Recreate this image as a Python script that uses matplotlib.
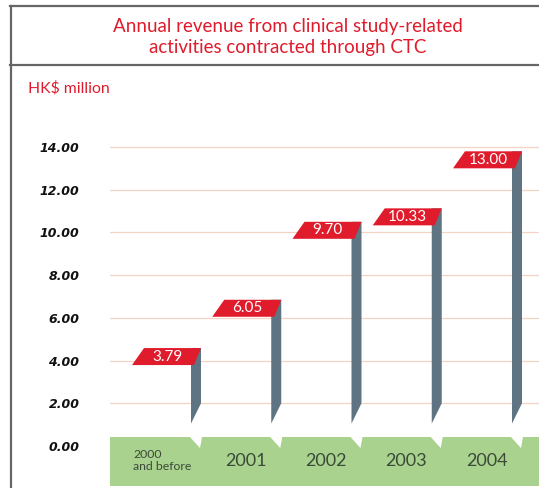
import numpy as np
import matplotlib.pyplot as plt
from matplotlib.patches import Polygon, Rectangle
from matplotlib.lines import Line2D

# Data
years = ['2000\nand before', '2001', '2002', '2003', '2004']
revenue = [3.79, 6.05, 9.70, 10.33, 13.00]
yticks = [0, 2, 4, 6, 8, 10, 12, 14]

RED = '#e01b2b'
GREY = '#5f7482'
GREEN = '#aad28f'
GRID = '#f4d2c6'
FRAME = '#666666'
YEARTXT = '#3b4a38'

fig = plt.figure(figsize=(5.39, 4.88), dpi=100)

# frame lines (title box + main box, right side is cut off)
for xs, ys in [([10 / 539, 1], [1 - 6 / 488, 1 - 6 / 488]),
               ([10 / 539, 1], [1 - 65 / 488, 1 - 65 / 488]),
               ([11 / 539, 11 / 539], [0, 1 - 6 / 488])]:
    fig.add_artist(Line2D(xs, ys, color=FRAME, lw=1.6, transform=fig.transFigure))

fig.text(288 / 539, 1 - 37 / 488,
         'Annual revenue from clinical study-related\nactivities contracted through CTC',
         ha='center', va='center', color=RED, fontsize=13.5, family=['Lato', 'DejaVu Sans'],
         linespacing=1.3)
fig.text(28 / 539, 1 - 88 / 488, 'HK$ million', ha='left', va='center', color=RED,
         fontsize=11.3, family=['Lato', 'DejaVu Sans'])

# axes placed so that the value scale matches the picture
ax = fig.add_axes([110 / 539, 0, 429 / 539, 358 / 488])
ax.set_xlim(-0.634, 4.712)
ax.set_ylim(-1.966, 14.794)

for s in ax.spines.values():
    s.set_visible(False)
ax.set_xticks([])
ax.set_yticks(yticks)
ax.set_yticklabels(['%.2f' % t for t in yticks], fontweight='bold', style='italic',
                   fontsize=9, color='#111111')
ax.tick_params(axis='y', length=0, pad=22)
for t in yticks[1:]:
    ax.axhline(t, color=GRID, lw=0.9, zorder=1)

# px -> data unit helpers
px_x = 1 / 80.25
px_y = 1 / 21.36

band_top = 0.42
band_bot = -1.87
ax.add_patch(Rectangle((-0.634, band_bot), 5.5, band_top - band_bot,
                       facecolor=GREEN, edgecolor='none', zorder=2))

label_h = 17 * px_y
for i, (yr, v) in enumerate(zip(years, revenue)):
    r = i + 0.5  # right edge of the bar
    top = v + label_h
    # grey stem with slanted bottom
    ax.add_patch(Polygon([(r - 10 * px_x, top), (r, top), (r, 2.0), (r - 10 * px_x, 1.05)],
                         closed=True, facecolor=GREY, edgecolor='none', zorder=3))
    # notch in the green band
    ax.add_patch(Polygon([(r - 11 * px_x, band_top), (r + 1 * px_x, band_top),
                          (r - 1 * px_x, band_top - 11 * px_y)],
                         closed=True, facecolor='white', edgecolor='none', zorder=3))
    # red value tag
    ax.add_patch(Polygon([(r - 69 * px_x, v), (r - 7 * px_x, v),
                          (r, top), (r - 57 * px_x, top)],
                         closed=True, facecolor=RED, edgecolor='none', zorder=4))
    ax.text(r - 34 * px_x, v + label_h / 2, '%.2f' % v, ha='center', va='center',
            color='white', fontsize=11, family=['Lato', 'DejaVu Sans'], zorder=5)
    # year label in the band
    if i == 0:
        ax.text(-0.347, -0.68, yr, ha='left', va='center', color=YEARTXT,
                fontsize=8.8, family=['Lato', 'DejaVu Sans'], linespacing=1.05, zorder=5)
    else:
        ax.text(i + 0.06, -0.68, yr, ha='center', va='center', color=YEARTXT,
                fontsize=13, family=['Lato', 'DejaVu Sans'], zorder=5)

fig.savefig('out.png', dpi=100)
